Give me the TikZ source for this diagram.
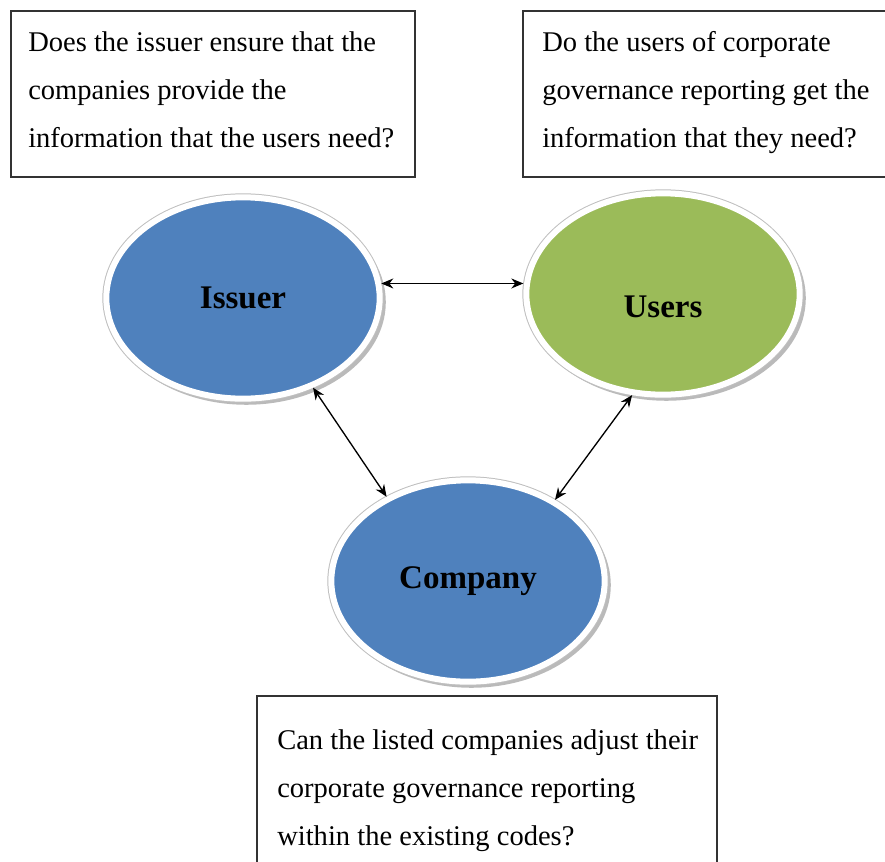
\documentclass[tikz,border=0pt]{standalone}
\usepackage{fontspec}
\setmainfont{Liberation Serif}
\usetikzlibrary{shapes.geometric,shadows,arrows.meta}
\definecolor{issuerblue}{RGB}{79,129,189}
\definecolor{usergreen}{RGB}{155,187,89}

\begin{document}
\begin{tikzpicture}[x=0.75pt,y=-0.75pt,
    question/.style={draw=black!80,line width=1.1pt},
    qtext/.style={anchor=north west,inner sep=0pt,align=left,font=\fontsize{21.4}{36}\selectfont},
    partyfont/.style={font=\fontsize{24.75}{30}\selectfont\bfseries},
    party/.style={ellipse,inner sep=0pt,minimum width=205pt,minimum height=151pt,
        drop shadow={shadow xshift=2.5pt,shadow yshift=-3pt,shadow scale=1.02,fill=black!45,opacity=0.6},
        preaction={draw=black!25,line width=6pt},
        draw=white,line width=4.5pt,partyfont},
    link/.style={{Stealth[length=9pt,width=7.5pt]}-{Stealth[length=9pt,width=7.5pt]},line width=1pt}]
    \clip (0,0) rectangle (885,861);

    \draw[question] (11,11) rectangle (415,177);
    \draw[question] (523,11) rectangle (900,177);
    \draw[question] (257,696) rectangle (717,900);
    \node[qtext] (q1) at (28,31) {Does the issuer ensure that the\\companies provide the\\information that the users need?};
    \node[qtext] (q2) at (542,31) {Do the users of corporate\\governance reporting get the\\information that they need?};
    \node[qtext] (q3) at (277,729) {Can the listed companies adjust their\\corporate governance reporting\\within the existing codes?};

    \node[party,fill=issuerblue] (issuer) at (243,298) {Issuer};
    \node[party,fill=usergreen,label={[name=userstext,partyfont,yshift=-10pt]center:Users}] (users) at (663,294) {};
    \node[party,fill=issuerblue] (company) at (468,581) {Company};

    \draw[link] (issuer.6) -- (issuer.6 -| users.west);
    \draw[link] (issuer.-52) -- (company.134.7);
    \draw[link] (users.253.7) -- (company.43.7);
\end{tikzpicture}
\end{document}
